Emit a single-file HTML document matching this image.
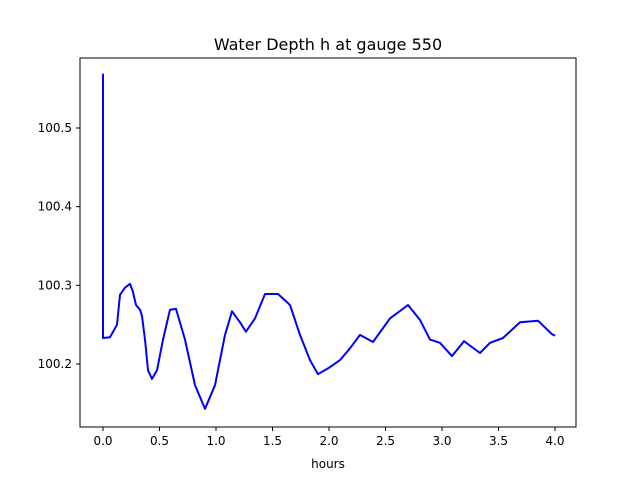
<!DOCTYPE html>
<html><head><meta charset="utf-8"><style>
body{margin:0;background:#fff;font-family:"Liberation Sans","DejaVu Sans",sans-serif}
svg text{font-family:"DejaVu Sans","Liberation Sans",sans-serif}
</style></head><body>
<svg id="chart" width="640" height="480" xmlns="http://www.w3.org/2000/svg">
<rect width="640" height="480" fill="#fff"/>
<text x="328" y="50" font-size="16" text-anchor="middle">Water Depth h at gauge 550</text>
<g id="marks"></g>
<g id="axes"></g>
<text x="328" y="468" font-size="12" text-anchor="middle">hours</text>
</svg>
<script>
const hours=[0,0,0.062,0.124,0.150,0.195,0.239,0.265,0.292,0.327,0.345,0.372,0.398,0.434,0.478,0.531,0.593,0.646,0.726,0.814,0.903,0.991,1.080,1.142,1.212,1.265,1.345,1.434,1.549,1.655,1.743,1.832,1.903,2.009,2.097,2.186,2.274,2.389,2.540,2.699,2.805,2.894,2.982,3.088,3.195,3.336,3.425,3.540,3.690,3.850,3.973,4.0];
const depth=[100.569,100.233,100.234,100.250,100.288,100.297,100.302,100.292,100.275,100.269,100.261,100.231,100.192,100.181,100.192,100.231,100.269,100.270,100.231,100.173,100.143,100.173,100.237,100.267,100.253,100.241,100.258,100.289,100.289,100.275,100.237,100.205,100.187,100.196,100.205,100.220,100.237,100.228,100.258,100.275,100.256,100.231,100.227,100.210,100.229,100.214,100.227,100.233,100.253,100.255,100.238,100.236];
const xTicks=[0.0,0.5,1.0,1.5,2.0,2.5,3.0,3.5,4.0];
const yTicks=[100.2,100.3,100.4,100.5];
const L=80,R=576,T=58,B=427;
const xs=v=>103+v*113;
const ys=v=>364-(v-100.2)*786.7;
const NS="http://www.w3.org/2000/svg";
const marks=document.getElementById('marks'),axes=document.getElementById('axes');
const line=document.createElementNS(NS,'polyline');


line.setAttribute('points',hours.map((h,i)=>xs(h).toFixed(1)+','+ys(depth[i]).toFixed(1)).join(' '));
line.setAttribute('fill','none');line.setAttribute('stroke','#0000ff');line.setAttribute('stroke-width','2');line.setAttribute('stroke-linejoin','round');
marks.appendChild(line);
const frame=document.createElementNS(NS,'rect');


frame.setAttribute('x',L);frame.setAttribute('y',T);frame.setAttribute('width',R-L);frame.setAttribute('height',B-T);
frame.setAttribute('fill','none');frame.setAttribute('stroke','#000');frame.setAttribute('stroke-width','1');
axes.appendChild(frame);
xTicks.forEach(t=>{
 const x=xs(t);
 const tk=document.createElementNS(NS,'line');
 
 
 tk.setAttribute('x1',x);tk.setAttribute('x2',x);tk.setAttribute('y1',B);tk.setAttribute('y2',B+4);tk.setAttribute('stroke','#000');
 axes.appendChild(tk);
 const tx=document.createElementNS(NS,'text');
 
 
 tx.setAttribute('x',x);tx.setAttribute('y',B+18);tx.setAttribute('font-size','12');tx.setAttribute('text-anchor','middle');
 tx.textContent=t.toFixed(1);axes.appendChild(tx);
});
yTicks.forEach(t=>{
 const y=ys(t);
 const tk=document.createElementNS(NS,'line');
 
 
 tk.setAttribute('x1',L-4);tk.setAttribute('x2',L);tk.setAttribute('y1',y);tk.setAttribute('y2',y);tk.setAttribute('stroke','#000');
 axes.appendChild(tk);
 const tx=document.createElementNS(NS,'text');
 
 
 tx.setAttribute('x',L-8);tx.setAttribute('y',y+4);tx.setAttribute('font-size','12');tx.setAttribute('text-anchor','end');
 tx.textContent=t.toFixed(1);axes.appendChild(tx);
});
</script>
</body></html>
